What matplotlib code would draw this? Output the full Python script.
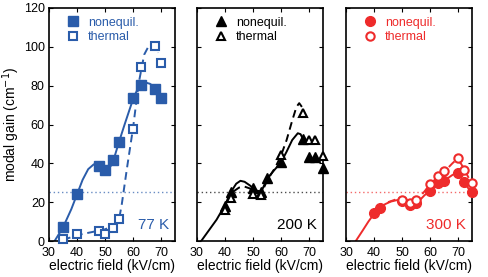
import matplotlib
matplotlib.use("Agg")
import matplotlib.pyplot as plt

plt.rcParams["font.family"] = ["Liberation Sans", "DejaVu Sans"]

# =========================
# DATOS
# =========================

BLUE = "#2a5caa"
RED = "#ee2b2b"
BLACK = "black"

# 77 K
field_77 = [35, 40, 48, 50, 53, 55, 60, 63, 68, 70]
noneq_77 = [7, 24, 38.5, 36.5, 41.5, 51, 73.5, 80.5, 78.5, 73.5]
therm_77 = [1, 3.5, 5, 3.5, 6.5, 11.5, 57.5, 89.5, 100.5, 91.5]
fit_noneq_77_x = [32, 35, 38, 40, 42, 44, 46, 48, 50, 52, 53, 55, 57, 60, 62, 64, 66, 67.5]
fit_noneq_77_y = [0, 7, 16.5, 24, 31.5, 37, 39.5, 39, 37.5, 38.5, 41.5, 51, 60, 73, 79.5, 81.8, 81, 79.5]
fit_therm_77_x = [35, 40, 45, 50, 53, 55, 56, 57, 58, 60, 62, 64, 66, 67.5, 69]
fit_therm_77_y = [0.5, 3, 4.5, 6, 8, 11, 19, 29, 39, 58, 81, 96, 101.5, 101, 97]

# 200 K
noneq_200_x = [40, 42, 50, 53, 55, 60, 68, 70, 72, 75]
noneq_200_y = [18, 25, 27.5, 25, 32.5, 40.5, 52.5, 43.5, 43.5, 37.5]
therm_200_x = [40, 42, 50, 53, 60, 68, 70, 72, 75]
therm_200_y = [16, 22, 24, 23.5, 44.5, 66, 52, 52, 44]
fit_noneq_200_x = [31.5, 34, 37, 40, 42, 44, 45.5, 47, 49, 51, 53, 55, 57, 60, 62, 64, 66, 67, 68]
fit_noneq_200_y = [0, 5, 11, 18.5, 25, 29.5, 31, 30.5, 28.5, 26, 25.5, 32, 35.5, 40.5, 46, 52, 55.5, 55, 52]
fit_therm_200_x = [43, 45, 47, 49, 50, 53, 55, 58, 60, 62, 64, 65.5, 66.5, 67.5, 68]
fit_therm_200_y = [25.5, 27.5, 28, 27, 25.5, 24.5, 31, 38, 44, 52, 62, 69, 71, 69, 65.5]

# 300 K
noneq_300_x = [40, 42, 50, 53, 55, 60, 63, 65, 70, 72, 75]
noneq_300_y = [14.5, 17, 20.5, 18.5, 19.5, 26, 30, 31, 35, 30.5, 25]
therm_300_x = [50, 53, 55, 60, 63, 65, 70, 72, 75]
therm_300_y = [21, 19.5, 21, 29.5, 33.5, 36, 42.5, 36.5, 30]
fit_noneq_300_x = [33.5, 36, 38, 40, 42, 44, 46, 48, 50, 52, 54, 56, 58, 60, 62, 64, 66, 68, 69.5, 71, 72, 74, 75]
fit_noneq_300_y = [0, 5.5, 10, 14, 17, 19, 20.3, 21, 21, 19.5, 19, 20.5, 23.5, 26, 28.5, 30.5, 32, 34, 35, 33, 30.5, 26.5, 25]
fit_therm_300_x = [45, 48, 50, 52, 54, 56, 58, 60, 62, 64, 66, 68, 69.5, 71, 72, 74, 75]
fit_therm_300_y = [20, 21.5, 21.5, 20.5, 20.5, 22, 25.5, 29, 32, 34.5, 37, 40, 42, 40, 37.5, 32, 30]

THRESHOLD = 25

panels = [
    dict(color=BLUE, marker="s", label="77 K",
         nx=field_77, ny=noneq_77, tx=field_77, ty=therm_77,
         fnx=fit_noneq_77_x, fny=fit_noneq_77_y, ftx=fit_therm_77_x, fty=fit_therm_77_y),
    dict(color=BLACK, marker="^", label="200 K",
         nx=noneq_200_x, ny=noneq_200_y, tx=therm_200_x, ty=therm_200_y,
         fnx=fit_noneq_200_x, fny=fit_noneq_200_y, ftx=fit_therm_200_x, fty=fit_therm_200_y),
    dict(color=RED, marker="o", label="300 K",
         nx=noneq_300_x, ny=noneq_300_y, tx=therm_300_x, ty=therm_300_y,
         fnx=fit_noneq_300_x, fny=fit_noneq_300_y, ftx=fit_therm_300_x, fty=fit_therm_300_y),
]

fig = plt.figure(figsize=(4.88, 2.77), dpi=100)
lefts = [49, 197, 346]
for i, p in enumerate(panels):
    ax = fig.add_axes([lefts[i] / 488, 36 / 277, 126 / 488, 233 / 277])
    c = p["color"]
    ax.axhline(THRESHOLD, color=c, linestyle=(0, (1, 2)), linewidth=1, alpha=0.7)
    ax.plot(p["fnx"], p["fny"], color=c, linewidth=1.4, zorder=2)
    ax.plot(p["ftx"], p["fty"], color=c, linewidth=1.4, linestyle=(0, (4, 2.5)), zorder=2)
    ax.plot(p["nx"], p["ny"], linestyle="none", marker=p["marker"], color=c,
            markersize=7, markeredgecolor=c, label="nonequil.", zorder=3, clip_on=False)
    ax.plot(p["tx"], p["ty"], linestyle="none", marker=p["marker"], markerfacecolor="white",
            markeredgecolor=c, markeredgewidth=1.5, markersize=6, label="thermal", zorder=4,
            clip_on=False)
    ax.set_xlim(30, 75)
    ax.set_ylim(0, 120)
    ax.set_xticks([30, 40, 50, 60, 70])
    ax.set_yticks(range(0, 121, 20))
    ax.tick_params(direction="in", top=True, right=True, labelsize=9, length=3)
    ax.tick_params(axis="x", pad=4)
    ax.tick_params(axis="y", pad=3)
    if i > 0:
        ax.set_yticklabels([])
    else:
        ax.set_ylabel("modal gain (cm$^{-1}$)", fontsize=10, labelpad=1)
    ax.set_xlabel("electric field (kV/cm)", fontsize=10, labelpad=0)
    for s in ax.spines.values():
        s.set_linewidth(1.2)
    leg = ax.legend(loc="upper left", frameon=False, fontsize=9, handletextpad=0.6,
                    borderaxespad=0.3, labelspacing=0.2, handlelength=1.2,
                    bbox_to_anchor=(0.06, 1.0))
    for t in leg.get_texts():
        t.set_color(c)
    ax.text(0.95, 0.04, p["label"], transform=ax.transAxes, ha="right", va="bottom",
            fontsize=11, color=c)

fig.savefig("out.png", dpi=100)
